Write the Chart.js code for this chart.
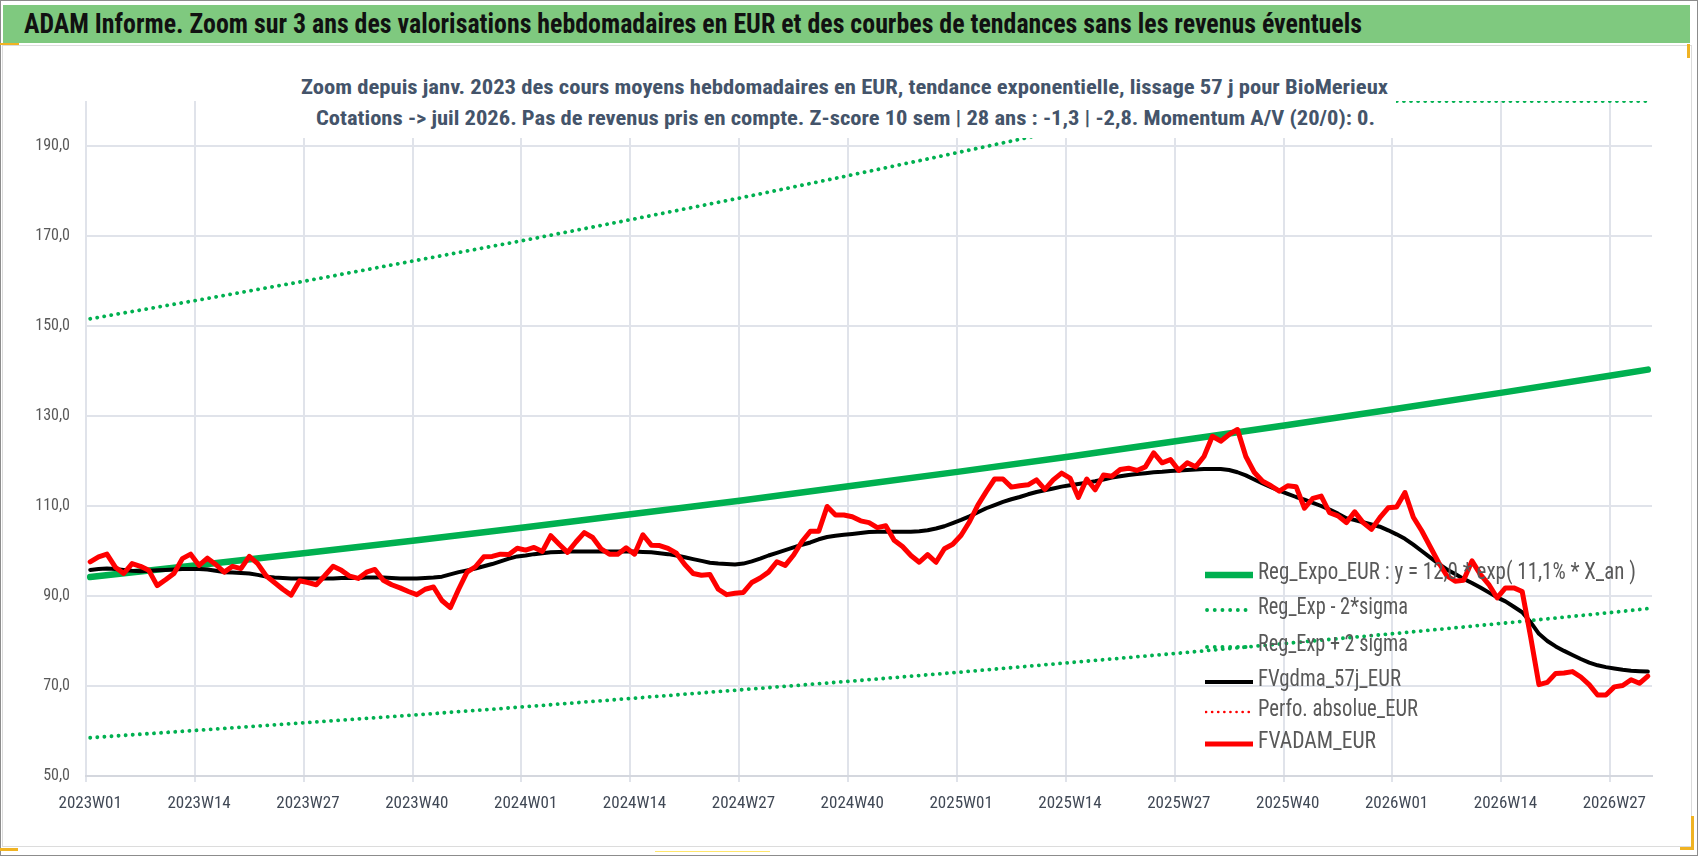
<!DOCTYPE html>
<html lang="fr">
<head>
<meta charset="utf-8">
<title>ADAM Informe - BioMerieux</title>
<script src="https://cdn.jsdelivr.net/npm/chart.js@4.4.1/dist/chart.umd.min.js"></script>
<style>
  html, body { margin: 0; padding: 0; background: #ffffff; }
  body { width: 1698px; height: 856px; position: relative; overflow: hidden;
         font-family: 'Liberation Sans Narrow', 'Roboto Condensed', 'DejaVu Sans Condensed', Roboto, sans-serif; }
  #outer { position: absolute; left: 0; top: 0; width: 1696px; height: 854px; border: 1px solid #8c8c8c; }
  #box { position: absolute; left: 2px; top: 45px; width: 1688px; height: 800px; border: 1px solid #dcdcdc; }
  #header { position: absolute; left: 3px; top: 5px; width: 1687px; height: 38px; background: #7fc97f; }
  #htext { position: absolute; left: 21px; top: 0; line-height: 38px; font-weight: bold; font-size: 28px;
           color: #111111; white-space: nowrap; }
  #wrap { position: absolute; left: 0; top: 0; width: 1698px; height: 856px; }
  #sub { position: absolute; left: 290px; top: 62px; width: 1106px; height: 76px; background: #ffffff; }
  .sl { position: absolute; white-space: nowrap; font-weight: bold; font-size: 21px; line-height: 28px; color: #44546a; }
  .lgs { position: absolute; left: 1205px; width: 48px; height: 12px; }
  .lgt { position: absolute; left: 1258px; white-space: nowrap; font-size: 23px; line-height: 28px; color: #595959; }
  .mk { position: absolute; }
</style>
</head>
<body>
<div id="outer"></div>
<div id="box"></div>
<div id="header"><span id="htext">ADAM Informe. Zoom sur 3 ans des valorisations hebdomadaires en EUR et des courbes de tendances sans les revenus éventuels</span></div>
<div class="mk" style="left:0;top:43px;width:19px;height:2px;background:#f0b323"></div>
<div class="mk" style="left:1687px;top:44px;width:3px;height:14px;background:#f0b323"></div>
<div class="mk" style="left:1691px;top:816px;width:3px;height:34px;background:#f0b323"></div>
<div class="mk" style="left:1680px;top:847px;width:14px;height:3px;background:#f0b323"></div>
<div class="mk" style="left:0;top:848px;width:18px;height:3px;background:#f0b323"></div>
<div class="mk" style="left:655px;top:851px;width:115px;height:1px;background:#ffe66b"></div>
<div id="wrap"><canvas id="c"></canvas></div>
<div id="sub">
  <span class="sl" id="s1" style="left:11px;top:11px">Zoom depuis janv. 2023 des cours moyens hebdomadaires en EUR, tendance exponentielle, lissage 57 j pour BioMerieux</span>
  <span class="sl" id="s2" style="left:26px;top:42px">Cotations -&gt; juil 2026. Pas de revenus pris en compte. Z-score 10 sem | 28 ans : -1,3 | -2,8. Momentum A/V (20/0): 0.</span>
</div>
<div id="legend"></div>
<script>
// ---------- DATA ----------
const YEARS = [2023, 2024, 2025, 2026];
const WEEKS_IN_YEAR = [52, 52, 52, 31];
const WEEKS = [];
YEARS.forEach((y, k) => {
  for (let w = 1; w <= WEEKS_IN_YEAR[k]; w++) WEEKS.push(y + 'W' + String(w).padStart(2, '0'));
});

const Y_TICKS = [50, 70, 90, 110, 130, 150, 170, 190];
const Y_MIN = 50;
const Y_MAX = 200;

const SERIES_NAMES = [
  'Reg_Expo_EUR : y = 12,0 * exp( 11,1% * X_an )',
  'Reg_Exp - 2*sigma',
  'Reg_Exp + 2 sigma',
  'FVgdma_57j_EUR',
  'Perfo. absolue_EUR',
  'FVADAM_EUR'
];

// trend curves read at the labelled weeks
const TREND_AT = ['2023W01','2023W14','2023W27','2023W40','2024W01','2024W14','2024W27','2024W40',
                  '2025W01','2025W14','2025W27','2025W40','2026W01','2026W14','2026W27','2026W31'];
const REG_EXPO = [94.2, 96.9, 99.6, 102.4, 105.3, 108.3, 111.3, 114.5, 117.7, 121.0, 124.5, 128.0, 131.6, 135.3, 139.1, 140.3];
const REG_LOW  = [58.5, 60.2, 61.9, 63.6, 65.4, 67.3, 69.2, 71.1, 73.1, 75.2, 77.3, 79.5, 81.7, 84.0, 86.4, 87.2];
const REG_HIGH = [151.6, 155.8, 160.1, 164.6, 169.1, 173.8, 178.6, 183.6, 188.7, 193.9, 199.3, 204.8, 210.5, 216.3, 222.3, 224.2];

// weekly average price (EUR)
const FVADAM = [
  97.6, 98.7, 99.3, 96.4, 95.0, 97.2, 96.6, 95.7, 92.3, 93.6,
  95.0, 98.3, 99.3, 96.8, 98.4, 97.0, 95.3, 96.6, 96.1, 98.8,
  97.2, 94.5, 93.0, 91.5, 90.2, 93.4, 93.0, 92.5, 94.5, 96.6,
  95.7, 94.4, 93.9, 95.3, 95.9, 93.5, 92.5, 91.8, 91.0, 90.3,
  91.5, 92.0, 89.0, 87.4, 91.5, 95.3, 96.5, 98.7, 98.8, 99.3,
  99.2, 100.6, 100.2, 100.8, 99.9, 103.4, 101.5, 99.7, 102.0, 104.1,
  103.0, 100.5, 99.3, 99.3, 100.7, 99.3, 103.6, 101.3, 101.2, 100.6,
  99.5, 97.0, 95.0, 94.6, 94.8, 91.5, 90.3, 90.6, 90.8, 93.0,
  94.0, 95.3, 97.6, 96.8, 99.1, 102.1, 104.4, 104.4, 109.9, 108.0,
  108.0, 107.6, 106.7, 106.3, 105.2, 105.6, 102.4, 101.0, 99.0, 97.5,
  99.2, 97.5, 100.5, 101.5, 103.5, 106.5, 110.2, 113.2, 116.0, 116.0,
  114.2, 114.5, 114.7, 115.8, 113.7, 115.8, 117.3, 116.2, 111.9, 116.0,
  113.6, 116.9, 116.6, 118.1, 118.4, 117.9, 118.7, 121.8, 119.6, 120.3,
  117.9, 119.6, 118.7, 121.0, 125.5, 124.4, 125.9, 127.0, 121.0, 117.5,
  115.5, 114.5, 113.3, 114.5, 114.3, 109.5, 111.7, 112.2, 108.5, 107.8,
  106.3, 108.7, 106.3, 104.8, 107.4, 109.6, 109.8, 113.0, 107.5, 104.5,
  101.0, 97.5, 94.5, 93.3, 93.5, 97.8, 94.8, 92.6, 89.6, 91.8,
  91.8, 91.0, 81.0, 70.3, 70.8, 72.8, 72.9, 73.2, 72.0, 70.3,
  68.0, 68.0, 69.8, 70.1, 71.4, 70.6, 72.2
];

// 57-day smoothed average
const FVGDMA = [
  95.8, 96.0, 96.1, 96.0, 95.8, 95.6, 95.5, 95.6, 95.7, 95.8,
  95.9, 96.0, 96.0, 96.0, 95.9, 95.6, 95.3, 95.2, 95.1, 95.0,
  94.7, 94.3, 94.1, 94.0, 93.9, 93.9, 93.9, 93.9, 93.9, 93.9,
  94.0, 94.0, 94.0, 94.1, 94.1, 94.1, 94.0, 93.9, 93.9, 93.9,
  94.0, 94.1, 94.3, 94.8, 95.3, 95.7, 96.1, 96.6, 97.1, 97.7,
  98.3, 98.8, 99.0, 99.3, 99.5, 99.7, 99.8, 99.9, 99.9, 99.9,
  99.9, 99.9, 99.9, 99.9, 99.9, 99.9, 99.8, 99.7, 99.5, 99.3,
  99.0, 98.6, 98.2, 97.8, 97.4, 97.2, 97.1, 97.0, 97.2, 97.7,
  98.3, 99.0, 99.6, 100.2, 100.8, 101.4, 101.9, 102.6, 103.1, 103.4,
  103.6, 103.8, 104.0, 104.2, 104.3, 104.3, 104.3, 104.3, 104.3, 104.4,
  104.6, 105.0, 105.5, 106.2, 106.9, 107.7, 108.6, 109.5, 110.2, 110.9,
  111.5, 112.0, 112.6, 113.1, 113.5, 113.9, 114.3, 114.6, 114.9, 115.2,
  115.5, 115.9, 116.3, 116.6, 116.9, 117.1, 117.3, 117.5, 117.6, 117.8,
  117.9, 118.0, 118.1, 118.2, 118.2, 118.2, 118.0, 117.5, 116.8, 115.9,
  115.0, 114.2, 113.4, 112.7, 112.0, 111.4, 110.7, 110.0, 109.2, 108.3,
  107.3, 106.9, 106.4, 105.9, 105.4, 104.6, 103.7, 102.7, 101.4, 100.0,
  98.6, 97.2, 95.9, 94.9, 93.8, 92.9, 91.9, 90.8, 89.7, 88.8,
  87.6, 86.4, 84.2, 81.6, 80.0, 78.8, 77.8, 76.9, 76.0, 75.2,
  74.6, 74.2, 73.9, 73.6, 73.4, 73.3, 73.2
];

// ---------- STYLE ----------
const FONT = "'Liberation Sans Narrow', 'Roboto Condensed', 'DejaVu Sans Condensed', Roboto, sans-serif";
const GREEN = '#00b050', RED = '#ff0000', BLACK = '#000000';
const GRID = '#e0e3ea', AXIS = '#d4d7de';
const LABEL_STEP = 13;

const atWeeks = (vals, cap) => TREND_AT.map((w, k) => ({ x: w, y: cap ? Math.min(vals[k], cap) : vals[k] }));

const datasets = [
  { label: SERIES_NAMES[0], data: atWeeks(REG_EXPO), borderColor: GREEN, borderWidth: 6.5, order: 6,
    borderCapStyle: 'round', borderJoinStyle: 'round' },
  { label: SERIES_NAMES[1], data: atWeeks(REG_LOW), borderColor: GREEN, borderWidth: 3.8, order: 5,
    borderDash: [0.1, 7], borderCapStyle: 'round' },
  // Excel pins values above the axis maximum to the top edge of the plot
  { label: SERIES_NAMES[2], data: atWeeks(REG_HIGH, Y_MAX), borderColor: GREEN, borderWidth: 3.8, order: 4,
    borderDash: [0.1, 7], borderCapStyle: 'round' },
  { label: SERIES_NAMES[3], data: FVGDMA, borderColor: BLACK, borderWidth: 4, order: 3,
    borderCapStyle: 'round', borderJoinStyle: 'round' },
  { label: SERIES_NAMES[4], data: [], borderColor: RED, borderWidth: 2, order: 2, borderDash: [2, 4] },
  { label: SERIES_NAMES[5], data: FVADAM, borderColor: RED, borderWidth: 5, order: 1,
    borderCapStyle: 'round', borderJoinStyle: 'round' }
];

new Chart(document.getElementById('c'), {
  type: 'line',
  data: { labels: WEEKS, datasets },
  options: {
    responsive: true, maintainAspectRatio: false, animation: false, devicePixelRatio: 1,
    layout: { padding: { left: 0, top: 101, right: 46, bottom: 0 } },
    plugins: { legend: { display: false }, title: { display: false }, tooltip: { enabled: false } },
    elements: { point: { radius: 0, hoverRadius: 0 }, line: { tension: 0, fill: false } },
    scales: {
      x: {
        type: 'category', offset: true,
        grid: {
          offset: true, lineWidth: 2, drawTicks: true, tickLength: 6,
          color: (ctx) => (ctx.index !== undefined && ctx.index % LABEL_STEP === 0) ? GRID : 'rgba(0,0,0,0)'
        },
        border: { display: true, color: AXIS, width: 2 },
        ticks: {
          autoSkip: false, maxRotation: 0, minRotation: 0, padding: 12, color: '#404855',
          font: { family: FONT, size: 17 },
          callback: function (value, index) { return index % LABEL_STEP === 0 ? this.getLabelForValue(value) : ''; }
        },
        afterFit: (s) => { s.height = 80; }
      },
      y: {
        type: 'linear', min: Y_MIN, max: Y_MAX,
        afterBuildTicks: (s) => { s.ticks = Y_TICKS.map(v => ({ value: v })); },
        grid: { color: GRID, lineWidth: 2, drawTicks: false },
        border: { display: false },
        ticks: {
          padding: 16, color: '#595959', font: { family: FONT, size: 16 },
          callback: (v) => Number(v).toFixed(1).replace('.', ',')
        },
        afterFit: (s) => { s.width = 86; }
      }
    }
  }
});

// ---------- LEGEND (HTML, overlaid like the Excel legend) ----------
const LEG_Y = [572, 607, 644, 679, 709, 741];
const LEG_W = [378, 150, 150, 143, 160, 118];
const LEG_SAMPLE = [
  '<line x1="0" y1="6" x2="48" y2="6" stroke="' + GREEN + '" stroke-width="6.5"/>',
  '<line x1="2" y1="6" x2="48" y2="6" stroke="' + GREEN + '" stroke-width="3.8" stroke-dasharray="0.1 7.6" stroke-linecap="round"/>',
  '<line x1="2" y1="6" x2="48" y2="6" stroke="' + GREEN + '" stroke-width="3.8" stroke-dasharray="0.1 7.6" stroke-linecap="round"/>',
  '<line x1="0" y1="6" x2="48" y2="6" stroke="' + BLACK + '" stroke-width="4"/>',
  '<line x1="1" y1="6" x2="48" y2="6" stroke="' + RED + '" stroke-width="2.6" stroke-dasharray="0.1 6" stroke-linecap="round"/>',
  '<line x1="0" y1="6" x2="48" y2="6" stroke="' + RED + '" stroke-width="5"/>'
];
const legend = document.getElementById('legend');
SERIES_NAMES.forEach((name, k) => {
  const s = document.createElement('div');
  s.className = 'lgs';
  s.style.top = (LEG_Y[k] - 6) + 'px';
  s.innerHTML = '<svg width="48" height="12" viewBox="0 0 48 12">' + LEG_SAMPLE[k] + '</svg>';
  legend.appendChild(s);
  const t = document.createElement('span');
  t.className = 'lgt';
  t.style.top = (LEG_Y[k] - 14) + 'px';
  t.textContent = name;
  legend.appendChild(t);
  t.dataset.w = LEG_W[k];
});

function fit(el, target) {
  const w = el.getBoundingClientRect().width;
  if (w > 0) { el.style.transformOrigin = '0 50%'; el.style.transform = 'scaleX(' + (target / w) + ')'; }
}
fit(document.getElementById('htext'), 1338);
fit(document.getElementById('s1'), 1087);
fit(document.getElementById('s2'), 1059);
document.querySelectorAll('.lgt').forEach(el => fit(el, Number(el.dataset.w)));
</script>
</body>
</html>
